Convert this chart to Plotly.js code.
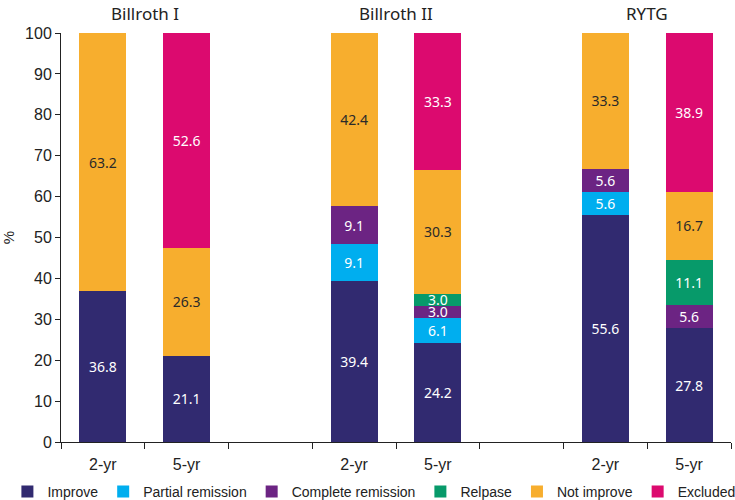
<!DOCTYPE html>
<html>
<head>
<meta charset="utf-8">
<script src="https://cdn.plot.ly/plotly-3.0.1.min.js"></script>
<style>html,body{margin:0;padding:0;background:#fff}#chart{width:735px;height:500px}</style>
</head>
<body>
<div id="chart"></div>
<script>
// ---- data ----
const groups = ["Billroth I", "Billroth II", "RYTG"];
const periods = ["2-yr", "5-yr"];
// order of bars: BI 2-yr, BI 5-yr, BII 2-yr, BII 5-yr, RYTG 2-yr, RYTG 5-yr
const improve           = [36.8, 21.1, 39.4, 24.2, 55.6, 27.8];
const partialRemission  = [null, null, 9.1, 6.1, 5.6, null];
const completeRemission = [null, null, 9.1, 3.0, 5.6, 5.6];
const relapse           = [null, null, null, 3.0, null, 11.1];
const notImprove        = [63.2, 26.3, 42.4, 30.3, 33.3, 16.7];
const excluded          = [null, 52.6, null, 33.3, null, 38.9];
const seriesNames = ["Improve", "Partial remission", "Complete remission", "Relpase", "Not improve", "Excluded"];

// ---- build ----
const colors = ["#312a70", "#00aeef", "#6c2483", "#079a6a", "#f7ae2e", "#dc0a6f"];
const textColors = ["#fff", "#fff", "#fff", "#fff", "#2a2a2a", "#fff"];
const seriesVals = [improve, partialRemission, completeRemission, relapse, notImprove, excluded];

const xPos = [];
const xLabels = [];
groups.forEach((g, gi) => periods.forEach((p, pi) => { xPos.push(gi * 3 + pi); xLabels.push(p); }));
const bounds = [];
for (let b = -0.5; b <= 7.5; b += 1) bounds.push(b);

const traces = seriesVals.map((vals, i) => ({
  type: "bar",
  name: seriesNames[i],
  x: xPos,
  y: vals,
  marker: { color: colors[i], line: { width: 0 } },
  texttemplate: "%{y:.1f}",
  textposition: "inside",
  insidetextanchor: "middle",
  textfont: { color: textColors[i], size: 14, family: "Noto Sans, Liberation Sans, sans-serif" },
  hoverinfo: "skip"
}));

const annotations = groups.map((g, gi) => ({
  text: g, x: gi * 3 + 0.5, xref: "x", y: 1, yref: "paper",
  yanchor: "bottom", yshift: 6, showarrow: false,
  font: { size: 17, color: "#222", family: "Noto Sans, Liberation Sans, sans-serif" }
}));

const layout = {
  width: 735, height: 500,
  margin: { l: 61, r: 4, t: 32.5, b: 57.5, autoexpand: false },
  paper_bgcolor: "#fff", plot_bgcolor: "#fff",
  barmode: "stack",
  bargap: 0.44,
  showlegend: true,
  uniformtext: { minsize: 14, mode: "show" },
  font: { family: "Liberation Sans, Arial, sans-serif", color: "#222" },
  xaxis: {
    type: "linear", range: [-0.5, 7.5], fixedrange: true,
    tickvals: xPos, ticktext: xLabels, ticks: "",
    tickfont: { size: 16, color: "#222" },
    ticklabelstandoff: 8,
    showline: true, linecolor: "#222", linewidth: 1,
    showgrid: false, zeroline: false, automargin: false,
    minor: { tickvals: bounds, ticks: "outside", ticklen: 6, tickcolor: "#222", tickwidth: 1, showgrid: false }
  },
  yaxis: {
    range: [0, 100], dtick: 10, ticks: "outside", ticklen: 5, tickcolor: "#222",
    tickfont: { size: 16, color: "#222" },
    showline: true, linecolor: "#222", linewidth: 1,
    showgrid: false, zeroline: false, automargin: false,
    title: { text: "%", font: { size: 15, color: "#222" }, standoff: 10 }
  },
  legend: {
    orientation: "h", xref: "paper", x: -0.08, xanchor: "left",
    yref: "paper", y: -0.083, yanchor: "top",
    font: { size: 14, color: "#222" }, itemwidth: 30, traceorder: "normal"
  },
  annotations: annotations
};

Plotly.newPlot("chart", traces, layout, { displayModeBar: false, staticPlot: true });
</script>
</body>
</html>
